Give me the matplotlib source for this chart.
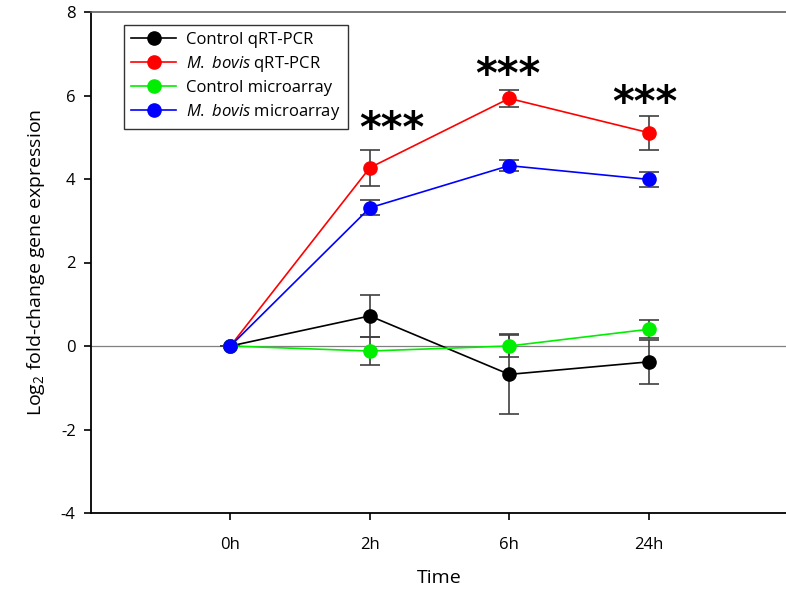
import matplotlib
matplotlib.use("Agg")
import matplotlib.pyplot as plt

plt.rcParams['font.family'] = ['Open Sans', 'DejaVu Sans']
plt.rcParams['mathtext.fontset'] = 'custom'
plt.rcParams['mathtext.rm'] = 'Open Sans'
plt.rcParams['mathtext.it'] = 'Open Sans:italic'
plt.rcParams['axes.unicode_minus'] = False

time_labels = ['0h', '2h', '6h', '24h']
x_pos = [1, 2, 3, 4]

ctrl_qpcr = [0.0, 0.72, -0.68, -0.38]
ctrl_qpcr_err = [0.0, 0.50, 0.96, 0.53]
bovis_qpcr = [0.0, 4.27, 5.93, 5.11]
bovis_qpcr_err = [0.0, 0.43, 0.20, 0.41]
ctrl_array = [0.0, -0.12, 0.0, 0.40]
ctrl_array_err = [0.0, 0.34, 0.26, 0.22]
bovis_array = [0.0, 3.31, 4.32, 3.99]
bovis_array_err = [0.0, 0.18, 0.14, 0.18]

series = [
    (ctrl_qpcr, ctrl_qpcr_err, '#000000', 'Control qRT-PCR'),
    (bovis_qpcr, bovis_qpcr_err, '#ff0000', r'$\mathit{M.}$ $\mathit{bovis}$ qRT-PCR'),
    (ctrl_array, ctrl_array_err, '#00ee00', 'Control microarray'),
    (bovis_array, bovis_array_err, '#0000ff', r'$\mathit{M.}$ $\mathit{bovis}$ microarray'),
]

sig_x = [2.16, 2.99, 3.97]
sig_y = [5.37, 6.66, 6.01]
sig_text = ['***', '***', '***']

fig = plt.figure(figsize=(7.86, 5.97), dpi=100)
ax = fig.add_axes([91/786, 1-513/597, 697/786, 501/597])

ax.axhline(0, color='#808080', lw=0.9, zorder=1)

handles = []
for vals, errs, col, lab in series:
    ax.errorbar(x_pos, vals, yerr=errs, fmt='none', ecolor='#404040',
                elinewidth=1.2, capsize=7, capthick=1.2, zorder=2)
    h, = ax.plot(x_pos, vals, '-o', color=col, lw=1.2, markersize=9.5,
                 markeredgecolor=col, label=lab, zorder=3)
    handles.append(h)

for sx, sy, st in zip(sig_x, sig_y, sig_text):
    ax.text(sx, sy - 0.49, st, ha='center', va='baseline', fontsize=30,
            fontweight='bold', family='DejaVu Sans')

ax.set_xlim(0, 5)
ax.set_ylim(-4, 8)
ax.set_xticks(x_pos)
ax.set_xticklabels(time_labels)
ax.set_yticks([-4, -2, 0, 2, 4, 6, 8])

ax.spines['right'].set_visible(False)
ax.spines['top'].set_color('#606060')
ax.spines['top'].set_linewidth(1.2)
ax.spines['left'].set_linewidth(1.3)
ax.spines['bottom'].set_linewidth(1.3)
ax.tick_params(axis='both', direction='out', length=5, width=1.2, labelsize=12)
ax.tick_params(axis='x', pad=12)
ax.tick_params(axis='y', pad=6)

ax.set_xlabel('Time', fontsize=14, labelpad=12)
ax.set_ylabel(r'Log$_2$ fold-change gene expression', fontsize=14, labelpad=10)

leg = ax.legend(handles=handles, loc='upper left', bbox_to_anchor=(0.047, 0.975),
                borderaxespad=0, fontsize=12, frameon=True, fancybox=False,
                edgecolor='black', handlelength=2.7, handletextpad=0.6,
                labelspacing=0.35, borderpad=0.45)
leg.get_frame().set_linewidth(1.0)

fig.savefig('out.png', dpi=100)
